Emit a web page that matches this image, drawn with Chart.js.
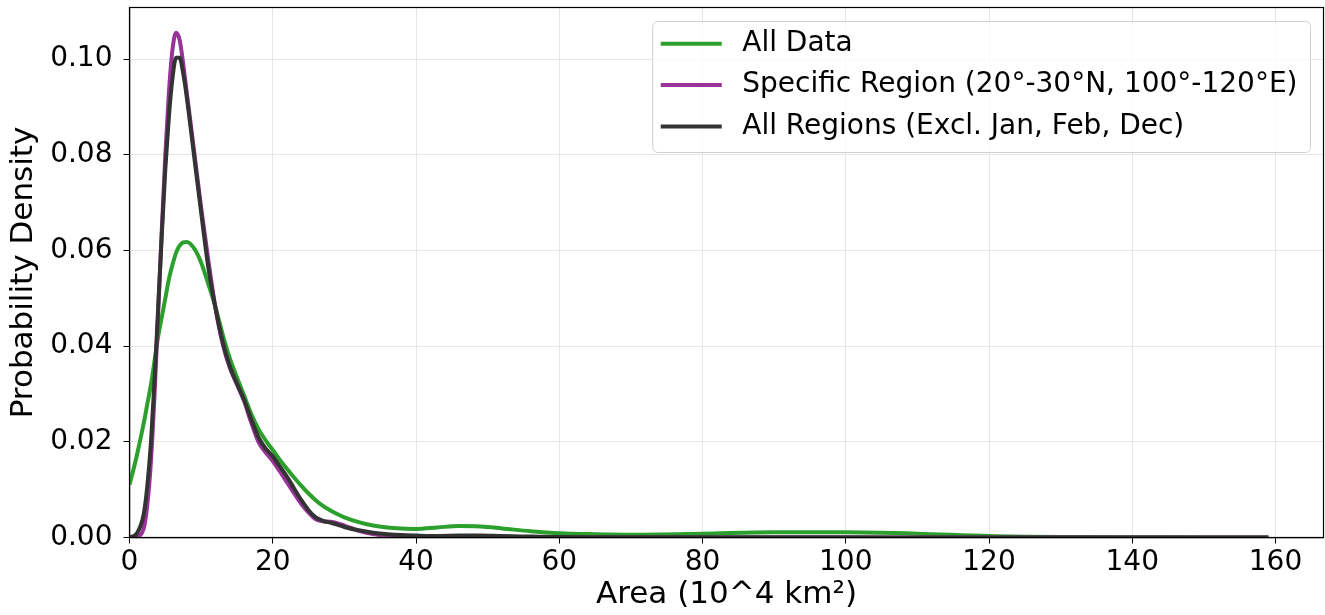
<!DOCTYPE html>
<html>
<head>
<meta charset="utf-8">
<script src="https://cdn.jsdelivr.net/npm/chart.js@4.4.1/dist/chart.umd.min.js"></script>
<style>
	html, body { margin: 0; padding: 0; background: #fff; }
	canvas { display: block; }
</style>
</head>
<body>
<canvas id="kdeCanvas" width="1325" height="615"></canvas>
<script>
// Area values (10^4 km²) where the density curves were read
const areaGrid = [
	0, 1, 2, 2.5, 3, 3.5, 4, 4.5, 5, 5.5, 6, 6.5, 7, 7.5, 8, 9, 10, 11, 12, 13,
	14, 15, 16, 17, 18, 19, 20, 21, 22, 23, 24, 25, 26, 27, 28, 29, 30, 32, 34, 36,
	38, 40, 43, 46, 49, 52, 56, 60, 65, 70, 80, 90, 100, 110, 120, 130, 140, 150, 159,
];

const allData = [
	0.011, 0.017, 0.024, 0.028, 0.032, 0.037, 0.042, 0.046, 0.05, 0.054, 0.057, 0.0595, 0.061, 0.0617, 0.0618, 0.0605, 0.0575, 0.053, 0.0482, 0.0425,
	0.0375, 0.0335, 0.0297, 0.0258, 0.0227, 0.0203, 0.0183, 0.0162, 0.0143, 0.0125, 0.0108, 0.0092, 0.0078, 0.0066, 0.0057, 0.0049, 0.0042, 0.0032, 0.0025, 0.0021,
	0.0019, 0.0018, 0.0021, 0.0024, 0.0023, 0.0019, 0.0013, 0.0009, 0.0007, 0.0006, 0.0008, 0.0011, 0.0011, 0.0008, 0.0003, 0.0001, 0.00005, 0, 0,
];

const specificRegion = [
	0, 0.0002, 0.002, 0.007, 0.016, 0.03, 0.047, 0.064, 0.08, 0.093, 0.102, 0.1055, 0.104, 0.099, 0.093, 0.081, 0.069, 0.058, 0.048, 0.0405,
	0.0355, 0.032, 0.0285, 0.024, 0.02, 0.0178, 0.016, 0.0138, 0.0115, 0.0092, 0.007, 0.0052, 0.0038, 0.0034, 0.0033, 0.003, 0.0025, 0.0014, 0.0007, 0.0003,
	0.0001, 0, 0, 0, 0, 0, 0, 0, 0, 0, 0, 0, 0, 0, 0, 0, 0, 0, 0,
];

const allRegions = [
	0, 0.0008, 0.005, 0.011, 0.02, 0.033, 0.048, 0.063, 0.077, 0.088, 0.096, 0.1003, 0.1003, 0.097, 0.092, 0.08, 0.068, 0.0565, 0.048, 0.041,
	0.0358, 0.0322, 0.0288, 0.0247, 0.021, 0.0186, 0.017, 0.0148, 0.0127, 0.0102, 0.0078, 0.0057, 0.0042, 0.0035, 0.0031, 0.0027, 0.0022, 0.0015, 0.001, 0.0007,
	0.0005, 0.0004, 0.0003, 0.0004, 0.0004, 0.0003, 0.0002, 0.0001, 0.00005, 0.00005, 0.00003, 0.00003, 0.00003, 0.00002, 0.00002, 0.00001, 0.00001, 0.00001, 0,
];

const seriesLabels = [
	"All Data",
	"Specific Region (20°-30°N, 100°-120°E)",
	"All Regions (Excl. Jan, Feb, Dec)",
];
const seriesColors = ["#2ca02c", "#993399", "#333333"];

const xTicks = [0, 20, 40, 60, 80, 100, 120, 140, 160];
const yTicks = [0, 0.02, 0.04, 0.06, 0.08, 0.1];

const FONT = "'DejaVu Sans', sans-serif";

function toPoints(values) {
	return areaGrid.map((x, i) => ({ x: x, y: values[i] }));
}

// box round the plot plus the legend in the upper right corner
const framePlugin = {
	id: "frame",
	afterDraw(chart) {
		const ctx = chart.ctx;
		const a = chart.chartArea;
		ctx.save();
		ctx.strokeStyle = "#000";
		ctx.lineWidth = 1.2;
		ctx.strokeRect(a.left, a.top, a.right - a.left, a.bottom - a.top);

		ctx.font = `28px ${FONT}`;
		const widest = Math.max(...seriesLabels.map((t) => ctx.measureText(t).width));
		const boxW = 89.5 + widest + 13;
		const boxH = 131;
		const boxX = a.right - 13 - boxW;
		const boxY = a.top + 14;
		ctx.beginPath();
		ctx.roundRect(boxX, boxY, boxW, boxH, 5);
		ctx.fillStyle = "rgba(255,255,255,0.8)";
		ctx.fill();
		ctx.strokeStyle = "#d0d0d0";
		ctx.lineWidth = 1;
		ctx.stroke();

		ctx.textBaseline = "middle";
		seriesLabels.forEach((label, i) => {
			const y = boxY + 22.3 + i * 41.3;
			ctx.beginPath();
			ctx.moveTo(boxX + 8, y);
			ctx.lineTo(boxX + 69, y);
			ctx.strokeStyle = seriesColors[i];
			ctx.lineWidth = 4;
			ctx.stroke();
			ctx.fillStyle = "#000";
			ctx.fillText(label, boxX + 89.5, y);
		});
		ctx.restore();
	},
};

function makeDataset(i, values, order) {
	return {
		label: seriesLabels[i],
		data: toPoints(values),
		borderColor: seriesColors[i],
		backgroundColor: seriesColors[i],
		borderWidth: 4,
		pointRadius: 0,
		cubicInterpolationMode: "monotone",
		order: order,
	};
}

const ctx = document.getElementById("kdeCanvas").getContext("2d");
new Chart(ctx, {
	type: "line",
	data: {
		datasets: [
			makeDataset(0, allData, 3),
			makeDataset(1, specificRegion, 2),
			makeDataset(2, allRegions, 1),
		],
	},
	options: {
		responsive: false,
		animation: false,
		devicePixelRatio: 1,
		layout: { padding: { top: 7.5, right: 1.5, left: 0, bottom: 0 } },
		plugins: {
			legend: { display: false },
			tooltip: { enabled: false },
		},
		scales: {
			x: {
				type: "linear",
				min: 0,
				max: 166.7,
				afterFit: (scale) => {
					scale.height = 77.5;
					scale.paddingLeft = 0;
					scale.paddingRight = 0;
				},
				afterBuildTicks: (scale) => { scale.ticks = xTicks.map((v) => ({ value: v })); },
				ticks: {
					color: "#000",
					font: { family: FONT, size: 28 },
					padding: 2,
					maxRotation: 0,
					callback: (v) => String(v),
				},
				grid: { color: "#e6e6e6", lineWidth: 1, tickLength: 6, tickColor: "#000" },
				border: { display: true, color: "#000", width: 1.2 },
				title: {
					display: true,
					text: "Area (10^4 km²)",
					color: "#000",
					font: { family: FONT, size: 31 },
					padding: { top: 0, bottom: 1 },
				},
			},
			y: {
				min: 0,
				max: 0.1108,
				afterFit: (scale) => {
					scale.width = 129.5;
					scale.paddingTop = 0;
					scale.paddingBottom = 0;
				},
				afterBuildTicks: (scale) => { scale.ticks = yTicks.map((v) => ({ value: v })); },
				ticks: {
					color: "#000",
					font: { family: FONT, size: 28 },
					padding: 11,
					callback: (v) => v.toFixed(2),
				},
				grid: { color: "#e6e6e6", lineWidth: 1, tickLength: 6, tickColor: "#000" },
				border: { display: true, color: "#000", width: 1.2 },
				title: {
					display: true,
					text: "Probability Density",
					color: "#000",
					font: { family: FONT, size: 31 },
					padding: { top: 5, bottom: 0 },
				},
			},
		},
	},
	plugins: [framePlugin],
});
</script>
</body>
</html>
